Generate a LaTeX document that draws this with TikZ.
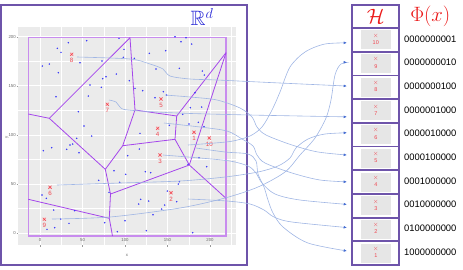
\documentclass[tikz,border=0pt]{standalone}
\usepackage{amsmath,amssymb}
\usepackage{fontspec}
\setsansfont{Liberation Sans}
\usepackage{xcolor}
\usepackage{tikz}
\usetikzlibrary{arrows.meta, calc}

\definecolor{framepurple}{RGB}{110,84,170}
\definecolor{panelgrey}{RGB}{235,235,235}
\definecolor{cellgrey}{RGB}{230,230,230}
\definecolor{edgeviolet}{RGB}{165,70,235}
\definecolor{boundviolet}{RGB}{200,140,238}
\definecolor{pointblue}{RGB}{45,45,250}
\definecolor{markred}{RGB}{240,70,80}
\definecolor{linkblue}{RGB}{160,182,228}
\definecolor{tipblue}{RGB}{70,110,210}
\definecolor{hashred}{RGB}{235,25,25}
\definecolor{rdblue}{RGB}{45,45,215}

\tikzset{
  panelframe/.style={draw=framepurple, line width=1.8pt},
  hashcell/.style={
    draw=framepurple, line width=1.8pt, minimum width=47pt,
    minimum height=23.7pt, inner sep=0pt
  },
  hashshade/.style={
    fill=cellgrey, minimum width=29.6pt, minimum height=19pt, inner sep=0pt
  },
  hashmark/.style={font=\fontsize{6}{6}\selectfont, text=markred, inner sep=0pt},
  hashnum/.style={font=\sffamily\fontsize{5.5}{6}\selectfont, text=markred, inner sep=0pt},
  bitcode/.style={font=\sffamily\fontsize{9.4}{10}\selectfont, inner sep=0pt},
  ticktext/.style={font=\sffamily\fontsize{4.3}{5}\selectfont, text=black!60, inner sep=0.5pt},
  gridmajor/.style={white, line width=0.9pt},
  gridminor/.style={white, line width=0.45pt},
  celledge/.style={edgeviolet, line width=0.8pt},
  boundbox/.style={draw=boundviolet, line width=1.3pt},
  samplept/.style={circle, fill=pointblue, inner sep=0pt, minimum size=1.6pt},
  centrelabel/.style={font=\sffamily\fontsize{6.2}{6}\selectfont, text=markred, inner sep=0pt},
  hashlink/.style={
    draw=linkblue, line width=0.6pt, shorten >=4.5pt,
    -{Latex[length=3.2pt, width=2.8pt, color=tipblue]}
  },
  centremark/.pic={
    \fill[markred!30] (0,0) circle (1.9pt);
    \draw[markred, line width=0.5pt] (-1.6,-1.6) -- (1.6,1.6) (-1.6,1.6) -- (1.6,-1.6);
  },
}

\begin{document}
\begin{tikzpicture}[x=1pt, y=-1pt]
  \useasboundingbox (0,0) rectangle (463,269);

  % Plot panel
  \fill[panelgrey] (18.3,26.7) rectangle (236,245);
  \foreach \gx in {61.25,103.75,146.25,188.75,231.25}
    \draw[gridminor] (\gx,26.7) -- (\gx,245);
  \foreach \gy in {208.7,159.6,110.4,61.3}
    \draw[gridminor] (18.3,\gy) -- (236,\gy);
  \foreach \gx in {40,82.5,125,167.5,210}
    \draw[gridmajor] (\gx,26.7) -- (\gx,245);
  \foreach \gy in {233.3,184.2,135,85.8,36.7}
    \draw[gridmajor] (18.3,\gy) -- (236,\gy);

  % Axes
  \foreach \lab/\gy in {200/36.7,150/85.8,100/135,50/184.2,0/233.3} {
    \draw[black!40, line width=0.3pt] (16.6,\gy) -- (18.3,\gy);
    \node[ticktext, anchor=east] (ty\lab) at (16.4,\gy) {\lab};
  }
  \foreach \lab/\gx in {0/40,50/82.5,100/125,150/167.5,200/210} {
    \draw[black!40, line width=0.3pt] (\gx,245) -- (\gx,246.7);
    \node[ticktext] (tx\lab) at (\gx,239.8) {\lab};
  }
  \node[ticktext] (xtitle) at (127,255) {x};
  \node[ticktext, rotate=90] (ytitle) at (7,137) {y};

  % Voronoi cells
  \draw[boundbox] (28.3,37.7) rectangle (226,236);
  \coordinate (vA) at (130,37.7);
  \coordinate (vB) at (49.3,118.3);
  \coordinate (vC) at (28.3,114);
  \coordinate (vD) at (135,110);
  \coordinate (vE) at (176.7,116);
  \coordinate (vF) at (226,52.7);
  \coordinate (vG) at (189.3,165);
  \coordinate (vH) at (175,139.3);
  \coordinate (vI) at (122.7,145.7);
  \coordinate (vJ) at (105.3,169.3);
  \coordinate (vK) at (110.5,194);
  \coordinate (vL) at (226,198.3);
  \coordinate (vM) at (109.3,218.3);
  \coordinate (vN) at (28.3,199.3);
  \coordinate (vO) at (112.5,236);
  \foreach \a/\b in {A/B, C/B, A/D, D/E, E/F, F/G, E/H, H/I, D/I, H/G,
                     I/J, B/J, J/K, K/G, G/L, K/M, M/N, M/O}
    \draw[celledge] (v\a) -- (v\b);

  % Sample points
  \foreach \px/\py [count=\i] in {
    57.3/48.3, 68.3/42.7, 61/52.3, 86.7/40.7, 119/38.3, 42.3/66, 49.3/64,
    58.3/72.7, 80/62.7, 102/61, 124/49.3, 123.3/57.3, 134.3/58.3, 149.3/53.3,
    165.7/50.7, 175/36.7, 186/37.7, 181/41.7, 191.7/44, 156/69, 179.3/68.3,
    202.3/71, 204.3/75, 116.3/74, 106/76.7, 102.7/78.7, 129.3/80.7, 90/85,
    101.3/87.3, 135/88.3, 142.7/90.7, 163.3/91.7, 166.7/95, 155/97.7,
    195/92.7, 56/96.7, 88.3/96, 78.3/111.7, 190.3/107.7, 201.7/107,
    182.7/114.3, 84/126, 169.3/125.3, 198.3/122.3, 189/124, 204/126.7,
    91.7/136, 76.7/138.3, 140/133.3, 43.3/150.7, 51.7/147.7, 66.7/149.3,
    70/145, 72.7/144, 79/152.7, 127.7/155.7, 139.3/149, 114/170.7,
    125.7/174.3, 119.7/182.3, 145.3/171.7, 150.7/172.7, 98.7/180.3,
    109/192.3, 179.3/181.7, 178.3/184, 199/157.7, 206.7/166.7, 188/164.3,
    42/195, 46.3/198.3, 53.7/210, 74.7/210.7, 60.7/219, 69/223.3,
    54.7/227.7, 47/229.3, 104.7/222.7, 125/220.7, 117.3/231.7, 146.3/230.7,
    138.7/204, 140.7/199.3, 148.7/201, 153/214.7, 161.7/209, 164.7/205,
    167.3/191, 176.7/201.7, 192.7/232.7}
    \node[samplept] (d\i) at (\px,\py) {};

  % Centres
  \foreach \k/\px/\py in {8/71.7/54.3, 7/107.3/104.3, 5/161/99, 4/157.7/128.3,
                          1/194/132.3, 10/209.3/138, 3/160/155, 6/50/187.3,
                          2/171/192.7, 9/44.3/219.3} {
    \coordinate (m\k) at (\px,\py);
    \pic at (m\k) {centremark};
    \node[centrelabel] (n\k) at ($(m\k)+(0,6.3)$) {\k};
  }

  % Left frame
  \draw[panelframe] (1,5) rectangle (247,265);
  \node[text=rdblue, font=\fontsize{20.74}{22}\selectfont] (rdlabel) at (202,17)
    {$\mathbb{R}^d$};

  % Hash table
  \node[hashcell, minimum height=23pt, text=hashred,
    font=\fontsize{20.74}{22}\selectfont] (hhead) at (375.8,16.5) {$\mathcal{H}$};
  \node[text=hashred, font=\fontsize{19.5}{21}\selectfont, inner sep=0pt] (phi)
    at (430.3,16) {$\Phi(x)$};
  \foreach \k/\code/\dy [count=\i] in {10/0000000001/3, 9/0000000010/-1,
      8/0000000100/-1, 7/0000001000/6, 6/0000010000/-2, 5/0000100000/-3,
      4/0001000000/0, 3/0010000000/-1, 2/0100000000/-1.5, 1/1000000000/-1.5} {
    \node[hashcell] (c\k) at (375.8, {16.15+\i*23.7}) {};
    \node[hashshade] (g\k) at (c\k) {};
    \node[hashmark] (x\k) at ($(c\k)+(0,-4.2)$) {$\times$};
    \node[hashnum] (h\k) at ($(c\k)+(0,2.6)$) {\k};
    \node[bitcode] (b\k) at ($(c\k)+(54.5,-1)$) {\code};
    \coordinate (e\k) at ($(c\k.west)+(0,\dy)$);
  }

  % Links from centres to buckets
  \coordinate (s8) at (77,57);
  \coordinate (s7) at (109,100);
  \coordinate (s5) at (165,95);
  \coordinate (s4) at (164,123);
  \coordinate (s1) at (196,148);
  \coordinate (s10) at (188,145);
  \coordinate (s3) at (163,155);
  \coordinate (s6) at (57,185);
  \coordinate (s2) at (188,199);
  \coordinate (s9) at (52,219);
  \draw[hashlink] plot[smooth, tension=0.5] coordinates
    {(s8) (130,59) (150,64) (163,69) (170,76) (190,79) (217,80) (280,83) (e8)};
  \draw[hashlink] plot[smooth, tension=0.5] coordinates
    {(s7) (116,102) (120,107) (128,110) (177,113) (250,115) (e7)};
  \draw[hashlink] plot[smooth, tension=0.5] coordinates
    {(s5) (190,97) (217,100) (240,108) (252,117) (257,127) (266,135) (292,145) (318,152) (e5)};
  \draw[hashlink] plot[smooth, tension=0.5] coordinates
    {(s4) (200,127) (227,131) (242,139) (253,146) (257,155) (265,163) (292,173) (320,180) (e4)};
  \draw[hashlink] plot[smooth, tension=0.5] coordinates
    {(s3) (200,158) (230,161) (248,166) (256,173) (262,183) (275,194) (300,200) (e3)};
  \draw[hashlink] plot[smooth, tension=0.5] coordinates
    {(s2) (227,201) (250,204) (264,210) (274,217) (292,222) (e2)};
  \draw[hashlink] plot[smooth, tension=0.5] coordinates
    {(s1) (225,152) (248,154) (256,161) (258,174) (264,187) (268,200) (273,213) (283,227) (308,243) (e1)};
  \draw[hashlink] plot[smooth, tension=0.5] coordinates
    {(s6) (120,183) (180,181) (225,177) (258,172) (278,166) (290,158) (296,148) (308,139) (325,134) (e6)};
  \draw[hashlink] plot[smooth, tension=0.5] coordinates
    {(s9) (110,217) (180,208) (225,198) (258,187) (285,172) (300,155) (315,138) (326,118) (331,100) (335,75) (341,64) (e9)};
  \draw[hashlink] plot[smooth, tension=0.5] coordinates
    {(s10) (215,143) (233,141) (250,136) (262,127) (272,110) (280,92) (290,67) (305,52) (325,44) (e10)};
\end{tikzpicture}
\end{document}
